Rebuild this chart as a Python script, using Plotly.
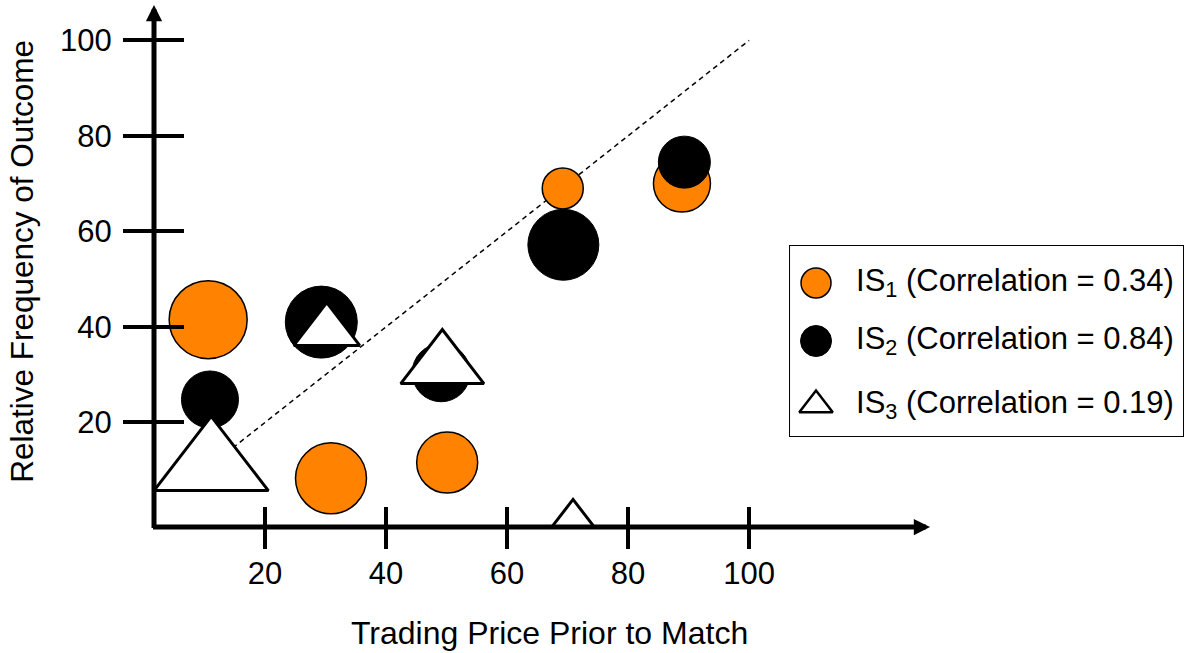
import plotly.graph_objects as go

# ---------------- data ----------------
series_names = ["IS<sub>1</sub>", "IS<sub>2</sub>", "IS<sub>3</sub>"]
correlations = [0.34, 0.84, 0.19]

is1_x = [10.6, 30.9, 50.1, 69.2, 88.9]
is1_y = [41.5, 8.3, 11.6, 69.0, 70.0]
is1_size = [78, 71, 61, 41, 57]

is2_x = [10.9, 29.3, 49.1, 69.3, 89.3]
is2_y = [24.8, 41.0, 30.4, 57.2, 74.5]
is2_size = [57, 72, 58, 71, 52]

is3_x = [11.1, 30.2, 49.3, 70.9]
is3_y = [10.9, 39.1, 31.9, 0.0]
is3_size = [99, 57, 72, 37]

diag_x = [10, 100]
diag_y = [10, 100]

x_ticks = [20, 40, 60, 80, 100]
y_ticks = [20, 40, 60, 80, 100]

x_title = "Trading Price Prior to Match"
y_title = "Relative Frequency of Outcome"

# ---------------- style ----------------
FONT = "Liberation Sans, Arial, sans-serif"
ORANGE = "#FF8200"
W, H = 1186, 653
ML, MR, MT, MB = 154, 0, 5, 126
X_RANGE = [1.65, 172.2]
Y_RANGE = [-1.9, 107.4]
X_ARROW_END = 129.9

fig = go.Figure()

fig.add_trace(go.Scatter(
    x=diag_x, y=diag_y, mode="lines",
    line=dict(color="black", width=1.5, dash="5px,4px"),
    showlegend=False, hoverinfo="skip", cliponaxis=False))

fig.add_trace(go.Scatter(
    x=is1_x, y=is1_y, mode="markers", name=series_names[0],
    marker=dict(symbol="circle", size=is1_size, color=ORANGE,
                line=dict(color="black", width=1.5), opacity=1),
    showlegend=False, cliponaxis=False))

fig.add_trace(go.Scatter(
    x=is2_x, y=is2_y, mode="markers", name=series_names[1],
    marker=dict(symbol="circle", size=is2_size, color="black",
                line=dict(color="black", width=1), opacity=1),
    showlegend=False, cliponaxis=False))

fig.add_trace(go.Scatter(
    x=is3_x, y=is3_y, mode="markers", name=series_names[2],
    marker=dict(symbol="triangle-up", size=is3_size, color="white",
                line=dict(color="black", width=3), opacity=1),
    showlegend=False, cliponaxis=False))

# dummy trace so overlay axes (for crossing ticks) get drawn
fig.add_trace(go.Scatter(x=[], y=[], xaxis="x2", yaxis="y2",
                         showlegend=False, hoverinfo="skip"))

# ---------------- custom legend ----------------
leg_rows = [37, 95, 159]
leg_labels = [f"{n} (Correlation = {c:.2f})" for n, c in zip(series_names, correlations)]
fig.add_trace(go.Scatter(
    x=[26, 26, 26], y=leg_rows, mode="markers", xaxis="x3", yaxis="y3",
    marker=dict(symbol=["circle", "circle", "triangle-up"], size=[30, 31, 29],
                color=[ORANGE, "black", "white"], opacity=1,
                line=dict(color="black", width=[1.5, 1, 2.5])),
    showlegend=False, hoverinfo="skip", cliponaxis=False))
fig.add_trace(go.Scatter(
    x=[66, 66, 66], y=leg_rows, mode="text", xaxis="x3", yaxis="y3",
    text=leg_labels, textposition="middle right",
    textfont=dict(family=FONT, size=31, color="black"),
    showlegend=False, hoverinfo="skip", cliponaxis=False))

common = dict(showgrid=False, zeroline=False, showline=False,
              tickcolor="black", tickwidth=4, fixedrange=True)

fig.update_layout(
    width=W, height=H,
    margin=dict(l=ML, r=MR, t=MT, b=MB, pad=0),
    paper_bgcolor="white", plot_bgcolor="white",
    font=dict(family=FONT, color="black"),
    showlegend=False,
    xaxis=dict(domain=[0, 1], range=X_RANGE, tickmode="array", tickvals=x_ticks,
               ticktext=[str(v) for v in x_ticks], ticks="outside", ticklen=21,
               ticklabelstandoff=-2, tickfont=dict(size=31, family=FONT),
               anchor="y", **common),
    yaxis=dict(domain=[0, 1], range=Y_RANGE, tickmode="array", tickvals=y_ticks,
               ticktext=[str(v) for v in y_ticks], ticks="outside", ticklen=30,
               ticklabelstandoff=5, tickfont=dict(size=31, family=FONT),
               anchor="x", **common),
    xaxis2=dict(overlaying="x", range=X_RANGE, anchor="y", side="bottom",
                tickmode="array", tickvals=x_ticks, ticks="inside", ticklen=20,
                showticklabels=False, **common),
    yaxis2=dict(overlaying="y", range=Y_RANGE, anchor="x", side="left",
                tickmode="array", tickvals=y_ticks, ticks="inside", ticklen=30,
                showticklabels=False, **common),
    xaxis3=dict(domain=[0.6163, 0.9971], range=[0, 393], anchor="y3", visible=False,
                fixedrange=True),
    yaxis3=dict(domain=[0.1743, 0.5383], range=[190, 0], anchor="x3", visible=False,
                fixedrange=True),
)

# legend box
fig.add_shape(type="rect", xref="x3 domain", yref="y3 domain", x0=0, x1=1, y0=0, y1=1,
              line=dict(color="black", width=2), fillcolor="rgba(0,0,0,0)", layer="below")

# axis lines with arrowheads
fig.add_annotation(x=X_RANGE[0], y=Y_RANGE[1], ax=X_RANGE[0], ay=Y_RANGE[0] - 0.52,
                   xref="x", yref="y", axref="x", ayref="y", text="", showarrow=True,
                   arrowhead=2, arrowwidth=5, arrowsize=0.65, arrowcolor="black", standoff=0)
fig.add_annotation(x=X_ARROW_END, y=Y_RANGE[0], ax=X_RANGE[0] - 0.41, ay=Y_RANGE[0],
                   xref="x", yref="y", axref="x", ayref="y", text="", showarrow=True,
                   arrowhead=2, arrowwidth=5, arrowsize=0.65, arrowcolor="black", standoff=0)

# axis titles
fig.add_annotation(text=x_title, xref="paper", yref="paper", x=0.383, y=-0.203,
                   xanchor="center", yanchor="middle", showarrow=False,
                   font=dict(size=32, family=FONT, color="black"))
fig.add_annotation(text=y_title, xref="paper", yref="paper", x=-0.1279, y=0.508,
                   xanchor="center", yanchor="middle", showarrow=False, textangle=-90,
                   font=dict(size=31.5, family=FONT, color="black"))

fig.write_html("out.html", config={"displayModeBar": False},
               post_script="document.body.style.margin='0px';")
